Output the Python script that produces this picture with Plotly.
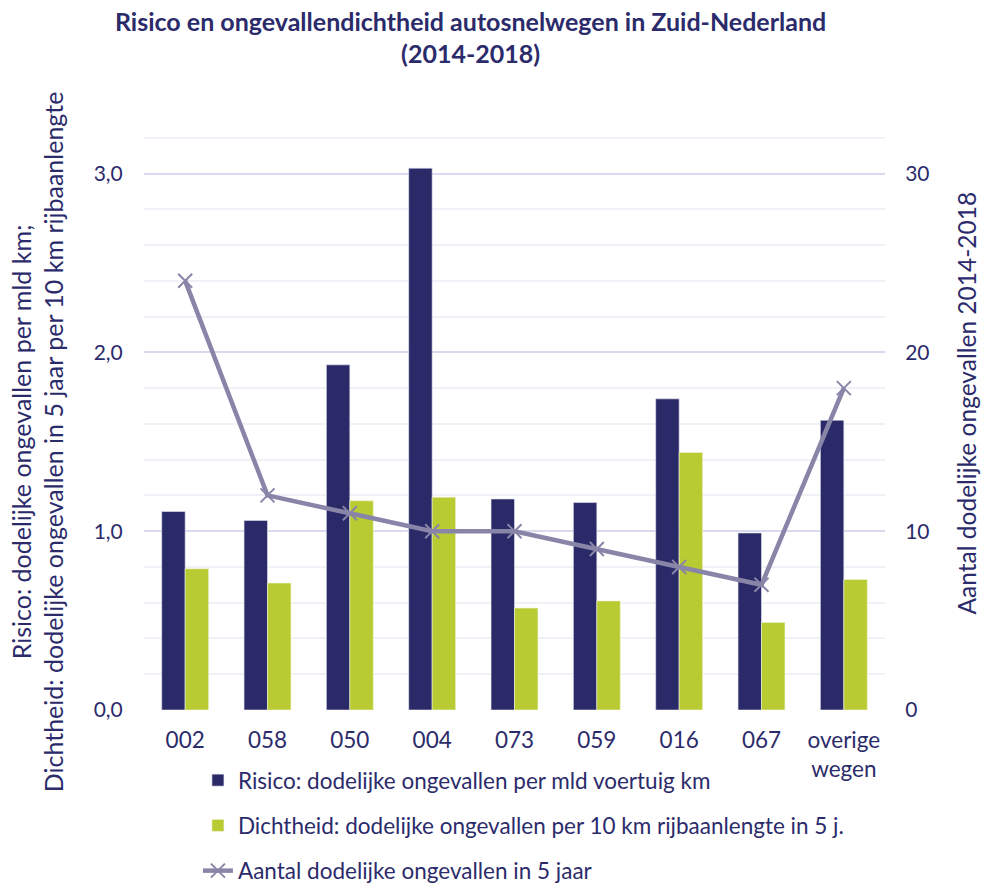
import plotly.graph_objects as go

categories = ["002", "058", "050", "004", "073", "059", "016", "067", "overige<br>wegen"]
risico = [1.11, 1.06, 1.93, 3.03, 1.18, 1.16, 1.74, 0.99, 1.62]
dichtheid = [0.79, 0.71, 1.17, 1.19, 0.57, 0.61, 1.44, 0.49, 0.73]
aantal = [24, 12, 11, 10, 10, 9, 8, 7, 18]

left_ticks = [0, 1, 2, 3]
right_ticks = [0, 10, 20, 30]

NAVY = "#2A2A68"
GREEN = "#B9CB33"
LINE = "#8985A9"
TEXT = "#2B2B6B"
FONT = "Lato"

fig = go.Figure()
fig.add_trace(go.Bar(
    x=categories, y=risico, name="Risico: dodelijke ongevallen per mld voertuig km",
    marker=dict(color=NAVY, line=dict(color="#E6E6F2", width=0.6)),
    legendgroup="a", yaxis="y",
))
fig.add_trace(go.Bar(
    x=categories, y=dichtheid, name="Dichtheid: dodelijke ongevallen per 10 km rijbaanlengte in 5 j.",
    marker=dict(color=GREEN, line=dict(color="#F2F5D8", width=0.6)),
    legendgroup="b", yaxis="y",
))
fig.add_trace(go.Scatter(
    x=categories, y=aantal, name="Aantal dodelijke ongevallen in 5 jaar",
    mode="lines+markers",
    line=dict(color=LINE, width=4.5),
    marker=dict(symbol="x-thin", size=14, line=dict(color=LINE, width=2)),
    legendgroup="c", yaxis="y2",
))

W, H = 997, 884
ml, mr, mt, mb = 144, 112, 102, 174

fig.update_layout(
    width=W, height=H,
    margin=dict(l=ml, r=mr, t=mt, b=mb, pad=0, autoexpand=False),
    paper_bgcolor="white", plot_bgcolor="white",
    font=dict(family=FONT, color=TEXT, size=22),
    separators=", ",
    barmode="group", bargap=0.43, bargroupgap=0,
    title=dict(
        text="<b>Risico en ongevallendichtheid autosnelwegen in Zuid-Nederland<br>(2014-2018)</b>",
        x=0.472, xanchor="center", y=0.965, yanchor="top", yref="container",
        font=dict(family=FONT, size=25, color=TEXT),
    ),
    xaxis=dict(
        range=[-0.5, len(categories) - 0.5], autorange=False,
        showgrid=False, zeroline=False, showline=False, automargin=False,
        ticks="outside", ticklen=10, tickcolor="rgba(0,0,0,0)",
        tickfont=dict(size=22.5, color=TEXT),
    ),
    yaxis=dict(
        range=[0, 3.4], tickvals=left_ticks, tickformat=".1f", automargin=False,
        showgrid=True, gridcolor="#D9D9EF", gridwidth=1.5,
        zeroline=False, showline=False,
        ticks="outside", ticklen=16, tickcolor="rgba(0,0,0,0)",
        tickfont=dict(size=21, color=TEXT),
        minor=dict(dtick=0.2, showgrid=True, gridcolor="#F0F0F7", gridwidth=1.5),
    ),
    yaxis2=dict(
        range=[0, 34], tickvals=right_ticks, overlaying="y", side="right", automargin=False,
        showgrid=False, zeroline=False, showline=False,
        ticks="outside", ticklen=15, tickcolor="rgba(0,0,0,0)",
        tickfont=dict(size=21, color=TEXT),
    ),
    legend=dict(
        orientation="v", x=0.0728, xanchor="left", y=0.1414, yanchor="top",
        xref="paper", yref="container",
        font=dict(size=22.5, color=TEXT), tracegroupgap=13,
        bgcolor="rgba(0,0,0,0)",
    ),
    showlegend=True,
    annotations=[
        dict(text="Risico: dodelijke ongevallen per mld km;<br>Dichtheid: dodelijke ongevallen in 5 jaar per 10 km rijbaanlengte",
             xref="paper", yref="paper", x=-0.1444, y=0.442, xanchor="center", yanchor="middle",
             textangle=-90, showarrow=False, font=dict(size=25, color=TEXT)),
        dict(text="Aantal dodelijke ongevallen 2014-2018",
             xref="paper", yref="paper", x=1.1093, y=0.5058, xanchor="center", yanchor="middle",
             textangle=-90, showarrow=False, font=dict(size=24.5, color=TEXT)),
    ],
)

fig.write_html("out.html", config={"displayModeBar": False},
               post_script="document.body.style.margin='0';")
